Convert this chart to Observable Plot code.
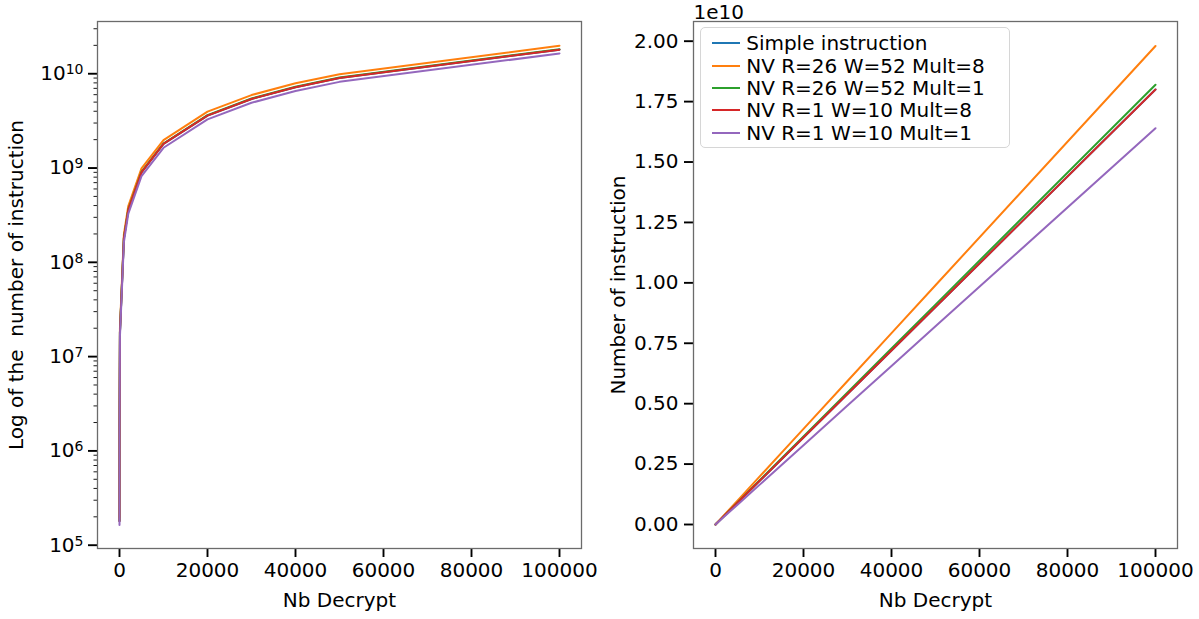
<!DOCTYPE html>
<html>
<head>
<meta charset="utf-8">
<script src="https://cdn.jsdelivr.net/npm/d3@7"></script>
<script src="https://cdn.jsdelivr.net/npm/@observablehq/plot@0.6"></script>
<style>
  body { margin: 0; background: #fff; font-family: "DejaVu Sans", sans-serif; }
  #wrap { position: relative; width: 1199px; height: 619px; overflow: hidden; background: #fff; }
  #wrap svg { position: absolute; top: 0; }
  .legend { position: absolute; left: 700px; top: 27px; width: 310px; height: 121px; box-sizing: border-box;
            border: 1px solid #d6d6d6; border-radius: 5px; background: rgba(255,255,255,0.8); padding-top: 4px; }
  .row { height: 22.4px; display: flex; align-items: center; font-size: 20px; line-height: 22px; white-space: nowrap; color: #000; }
  .sw { display: inline-block; width: 28px; height: 2px; margin-left: 10.7px; margin-right: 6.5px; }
</style>
</head>
<body>
<div id="wrap"></div>
<script>
// ---- data ----
const nbDecrypt = [1, 10, 100, 1000, 2000, 5000, 10000, 20000, 30000, 40000, 50000, 100000];
const seriesNames = ["Simple instruction", "NV R=26 W=52 Mult=8", "NV R=26 W=52 Mult=1", "NV R=1 W=10 Mult=8", "NV R=1 W=10 Mult=1"];
const simpleInstruction = [1.80e5, 1.80e6, 1.80e7, 1.80e8, 3.60e8, 9.00e8, 1.80e9, 3.60e9, 5.40e9, 7.20e9, 9.00e9, 1.80e10];
const nvR26W52Mult8     = [1.98e5, 1.98e6, 1.98e7, 1.98e8, 3.96e8, 9.90e8, 1.98e9, 3.96e9, 5.94e9, 7.92e9, 9.90e9, 1.98e10];
const nvR26W52Mult1     = [1.82e5, 1.82e6, 1.82e7, 1.82e8, 3.64e8, 9.10e8, 1.82e9, 3.64e9, 5.46e9, 7.28e9, 9.10e9, 1.82e10];
const nvR1W10Mult8      = [1.80e5, 1.80e6, 1.80e7, 1.80e8, 3.60e8, 9.00e8, 1.80e9, 3.60e9, 5.40e9, 7.20e9, 9.00e9, 1.80e10];
const nvR1W10Mult1      = [1.64e5, 1.64e6, 1.64e7, 1.64e8, 3.28e8, 8.20e8, 1.64e9, 3.28e9, 4.92e9, 6.56e9, 8.20e9, 1.64e10];
const palette = ["#1f77b4", "#ff7f0e", "#2ca02c", "#d62728", "#9467bd"];

const xTicks = [0, 20000, 40000, 60000, 80000, 100000];
const logTicks = [1e5, 1e6, 1e7, 1e8, 1e9, 1e10];
const logTickBase = "10";
const logTickExponents = ["5", "6", "7", "8", "9", "10"];
const linTicks = [0, 0.25e10, 0.5e10, 0.75e10, 1.0e10, 1.25e10, 1.5e10, 1.75e10, 2.0e10];
const linTickLabels = ["0.00", "0.25", "0.50", "0.75", "1.00", "1.25", "1.50", "1.75", "2.00"];
const xLabel = "Nb Decrypt";
const yLabelLeft = "Log of the  number of instruction";
const yLabelRight = "Number of instruction";
const offsetText = "1e10";

// ---- table for Plot ----
const allSeries = [simpleInstruction, nvR26W52Mult8, nvR26W52Mult1, nvR1W10Mult8, nvR1W10Mult1];
const table = [];
allSeries.forEach((vals, i) => vals.forEach((v, j) => table.push({series: seriesNames[i], x: nbDecrypt[j], y: v})));

const minorTicks = [];
for (let e = 4; e <= 10; e++) for (let m = 2; m <= 9; m++) minorTicks.push(m * Math.pow(10, e));

const FS = 20;
const style = {fontFamily: "DejaVu Sans", fontSize: FS + "px", background: "transparent", overflow: "visible", color: "#000"};
const color = {domain: seriesNames, range: palette};
const fmtX = d => d3.format("d")(d);

const yLo = Math.pow(10, 4.965), yHi = Math.pow(10, 10.554);
const left = Plot.plot({
  width: 600, height: 619,
  marginLeft: 97, marginRight: 19, marginTop: 21, marginBottom: 71,
  style, color,
  x: {domain: [-5000, 105000]},
  y: {type: "log", domain: [yLo, yHi]},
  marks: [
    Plot.axisY({ticks: minorTicks.filter(t => t > yLo && t < yHi), tickSize: 3.5, strokeWidth: 0.9, tickFormat: () => "", label: null}),
    Plot.axisY({ticks: logTicks, tickSize: 9, strokeWidth: 1.9, tickPadding: 5, fontSize: FS,
                tickFormat: d => "LOG" + logTicks.indexOf(d), label: null}),
    Plot.axisX({ticks: xTicks, tickSize: 9, strokeWidth: 1.9, tickPadding: 5, fontSize: FS, tickFormat: fmtX, label: null}),
    Plot.line(table, {x: "x", y: "y", z: "series", stroke: "series", strokeWidth: 2}),
    Plot.frame({stroke: "#6b6b6b", strokeWidth: 1.3}),
    Plot.text([yLabelLeft], {frameAnchor: "left", rotate: -90, dx: -81, textAnchor: "middle", lineAnchor: "middle", text: d => d, fontSize: FS, fill: "#000"}),
    Plot.text([xLabel], {frameAnchor: "bottom", dy: 52, textAnchor: "middle", lineAnchor: "middle", text: d => d, fontSize: FS, fill: "#000"})
  ]
});

const right = Plot.plot({
  width: 599, height: 619,
  marginLeft: 93, marginRight: 22, marginTop: 21, marginBottom: 71,
  style, color,
  x: {domain: [-5000, 105000]},
  y: {domain: [-0.0993e10, 2.0815e10]},
  marks: [
    Plot.axisY({ticks: linTicks, tickSize: 9, strokeWidth: 1.9, tickPadding: 6, fontSize: FS,
                tickFormat: d => linTickLabels[linTicks.indexOf(d)], label: null}),
    Plot.axisX({ticks: xTicks, tickSize: 9, strokeWidth: 1.9, tickPadding: 5, fontSize: FS, tickFormat: fmtX, label: null}),
    Plot.line(table, {x: "x", y: "y", z: "series", stroke: "series", strokeWidth: 2}),
    Plot.frame({stroke: "#6b6b6b", strokeWidth: 1.3}),
    Plot.text([yLabelRight], {frameAnchor: "left", rotate: -90, dx: -75, textAnchor: "middle", lineAnchor: "middle", text: d => d, fontSize: FS, fill: "#000"}),
    Plot.text([xLabel], {frameAnchor: "bottom", dy: 52, textAnchor: "middle", lineAnchor: "middle", text: d => d, fontSize: FS, fill: "#000"}),
    Plot.text([offsetText], {frameAnchor: "top-left", dy: -3, lineAnchor: "bottom", textAnchor: "start", text: d => d, fontSize: FS, fill: "#000"})
  ]
});

// render log tick labels as 10 with a raised, smaller exponent (like mathtext)
d3.select(left).selectAll("text").each(function() {
  const t = this.textContent;
  if (t && t.startsWith("LOG")) {
    const i = +t.slice(3);
    this.textContent = "";
    const s = d3.select(this);
    s.append("tspan").text(logTickBase);
    s.append("tspan").attr("font-size", 14).attr("dy", -6).text(logTickExponents[i]);
  }
});

const wrap = document.getElementById("wrap");
left.style.left = "0px";
right.style.left = "600px";
wrap.appendChild(left);
wrap.appendChild(right);

const leg = d3.select(wrap).append("div").attr("class", "legend");
seriesNames.forEach((n, i) => {
  const row = leg.append("div").attr("class", "row");
  row.append("span").attr("class", "sw").style("background", palette[i]);
  row.append("span").text(n);
});
</script>
</body>
</html>
